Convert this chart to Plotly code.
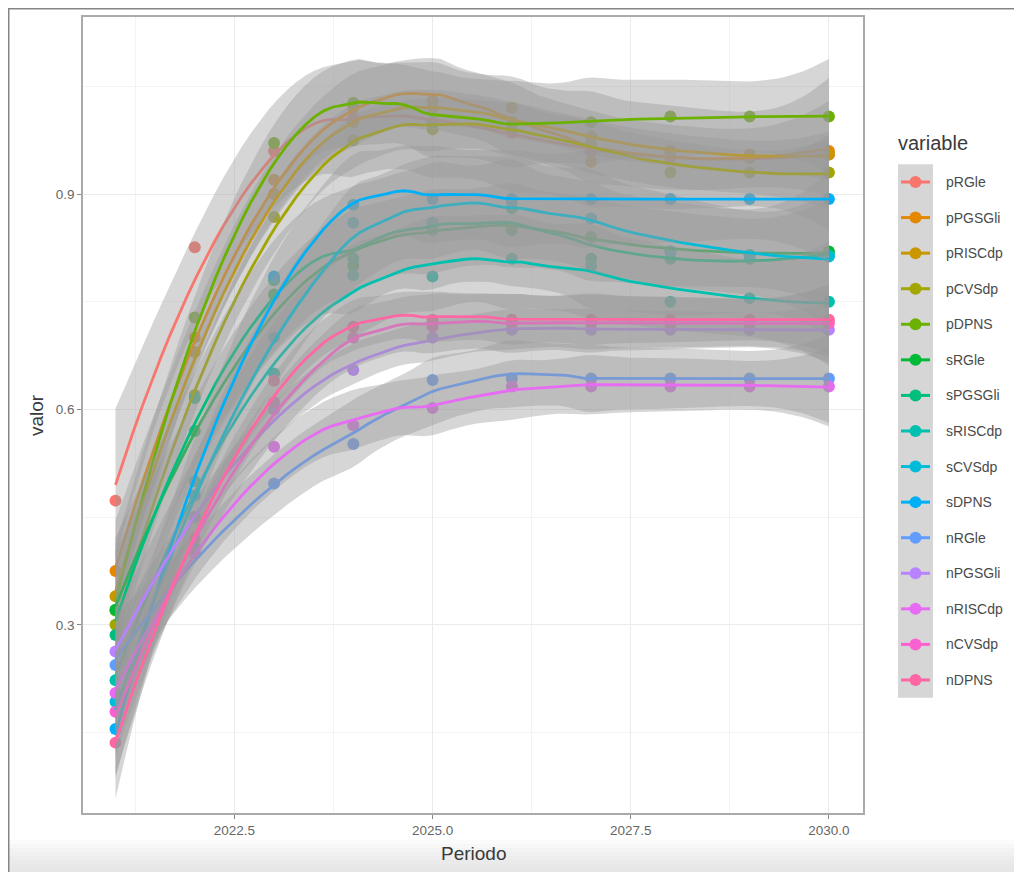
import numpy as np
import plotly.graph_objects as go

# ---------------- data ----------------
years = [2021, 2022, 2023, 2024, 2025, 2026, 2027, 2028, 2029, 2030]

series_names = ["pRGle", "pPGSGli", "pRISCdp", "pCVSdp", "pDPNS",
                "sRGle", "sPGSGli", "sRISCdp", "sCVSdp", "sDPNS",
                "nRGle", "nPGSGli", "nRISCdp", "nCVSdp", "nDPNS"]

pRGle   = [0.473, 0.826, 0.960, 1.005, 1.000, 0.985, 0.960, 0.950, 0.950, 0.955]
pPGSGli = [0.375, 0.700, 0.920, 1.020, 1.030, 1.020, 0.945, 0.960, 0.955, 0.960]
pRISCdp = [0.340, 0.680, 0.900, 1.000, 1.020, 1.000, 0.980, 0.960, 0.950, 0.955]
pCVSdp  = [0.300, 0.620, 0.868, 0.975, 0.990, 0.990, 0.970, 0.930, 0.930, 0.930]
pDPNS   = [0.320, 0.728, 0.971, 1.027, 1.000, 1.000, 1.000, 1.008, 1.008, 1.008]
sRGle   = [0.321, 0.570, 0.760, 0.800, 0.860, 0.850, 0.840, 0.820, 0.815, 0.820]
sPGSGli = [0.286, 0.616, 0.780, 0.810, 0.850, 0.880, 0.810, 0.810, 0.810, 0.815]
sRISCdp = [0.223, 0.500, 0.650, 0.787, 0.785, 0.810, 0.800, 0.750, 0.755, 0.750]
sCVSdp  = [0.193, 0.450, 0.700, 0.860, 0.860, 0.890, 0.866, 0.820, 0.815, 0.813]
sDPNS   = [0.155, 0.480, 0.785, 0.885, 0.893, 0.893, 0.893, 0.893, 0.893, 0.893]
nRGle   = [0.244, 0.407, 0.497, 0.552, 0.641, 0.643, 0.643, 0.643, 0.643, 0.643]
nPGSGli = [0.263, 0.450, 0.600, 0.655, 0.700, 0.711, 0.711, 0.711, 0.711, 0.711]
nRISCdp = [0.205, 0.400, 0.548, 0.578, 0.602, 0.632, 0.632, 0.632, 0.632, 0.632]
nCVSdp  = [0.179, 0.400, 0.610, 0.700, 0.715, 0.720, 0.720, 0.720, 0.720, 0.720]
nDPNS   = [0.136, 0.420, 0.640, 0.715, 0.725, 0.725, 0.725, 0.725, 0.725, 0.725]

series_values = [pRGle, pPGSGli, pRISCdp, pCVSdp, pDPNS,
                 sRGle, sPGSGli, sRISCdp, sCVSdp, sDPNS,
                 nRGle, nPGSGli, nRISCdp, nCVSdp, nDPNS]

palette = ["#F8766D", "#E58700", "#C99800", "#A3A500", "#6BB100",
           "#00BA38", "#00BF7D", "#00C0AF", "#00BCD8", "#00B0F6",
           "#619CFF", "#B983FF", "#E76BF3", "#FD61D1", "#FF67A4"]

x_ticks = [2022.5, 2025.0, 2027.5, 2030.0]
x_ticktext = ["2022.5", "2025.0", "2027.5", "2030.0"]
y_ticks = [0.3, 0.6, 0.9]
y_ticktext = ["0.3", "0.6", "0.9"]


# ---------------- loess (like ggplot geom_smooth) ----------------
def t975(df):
    z = 1.959964
    g1 = (z**3 + z) / 4
    g2 = (5*z**5 + 16*z**3 + 3*z) / 96
    g3 = (3*z**7 + 19*z**5 + 17*z**3 - 15*z) / 384
    g4 = (79*z**9 + 776*z**7 + 1482*z**5 - 1920*z**3 - 945*z) / 92160
    return z + g1/df + g2/df**2 + g3/df**3 + g4/df**4


# R's "approximate" loess statistics give a noticeably wider band for tiny n;
# emulate that with a widening factor on the standard error.
SE_WIDEN = 1.7


def loess_smooth(x, y, xs, span=0.75):
    x = np.asarray(x, float)
    y = np.asarray(y, float)
    n = len(x)
    q = int(np.floor(n * span))

    def row(x0):
        d = np.abs(x - x0)
        h = np.sort(d)[q - 1]
        u = np.clip(d / h, 0, 1)
        w = (1 - u**3)**3
        X = np.column_stack([np.ones(n), x - x0, (x - x0)**2])
        XtW = X.T * w
        return np.linalg.solve(XtW @ X, XtW)[0]

    L = np.array([row(v) for v in x])
    M = np.eye(n) - L
    R = M.T @ M
    d1 = np.trace(R)
    d2 = np.trace(R @ R)
    res = y - L @ y
    s = np.sqrt(np.sum(res**2) / d1)
    t = t975(d1**2 / d2)
    rows = np.array([row(v) for v in xs])
    fit = rows @ y
    se = SE_WIDEN * s * np.sqrt(np.sum(rows**2, axis=1))
    return fit, fit - t * se, fit + t * se


xs = np.linspace(min(years), max(years), 80)

fig = go.Figure()

# points first (beneath the smooth layers, as in ggplot)
for name, vals, col in zip(series_names, series_values, palette):
    fig.add_trace(go.Scatter(x=years, y=vals, mode="markers",
                             marker=dict(color=col, size=12),
                             name=name, showlegend=False, hoverinfo="skip"))

# smooth ribbons + lines
for name, vals, col in zip(series_names, series_values, palette):
    fit, lo, hi = loess_smooth(years, vals, xs)
    fig.add_trace(go.Scatter(x=np.concatenate([xs, xs[::-1]]),
                             y=np.concatenate([hi, lo[::-1]]),
                             mode="lines", fill="toself",
                             fillcolor="rgba(153,153,153,0.4)",
                             line=dict(width=0), showlegend=False,
                             hoverinfo="skip"))
    fig.add_trace(go.Scatter(x=xs, y=fit, mode="lines",
                             line=dict(color=col, width=2.8),
                             showlegend=False, name=name))

# ---------------- layout geometry (page has an 8px body margin) ----------------
W, H = 1014, 864
PL, PR, PT, PB = 75, 855, 9, 805          # plot panel edges in figure pixels

# ---------------- custom legend (pixel-coordinate subplot) ----------------
key_y0, key_step = 174.0, 35.57
key_x_left, key_x_right = 890, 925
key_centers = [key_y0 + key_step * i for i in range(len(series_names))]

for name, col, yc in zip(series_names, palette, key_centers):
    fig.add_trace(go.Scatter(x=[key_x_left + 3, key_x_right - 3], y=[yc, yc],
                             mode="lines", line=dict(color=col, width=3),
                             xaxis="x2", yaxis="y2", showlegend=False,
                             hoverinfo="skip", cliponaxis=False))
    fig.add_trace(go.Scatter(x=[(key_x_left + key_x_right) / 2], y=[yc],
                             mode="markers", marker=dict(color=col, size=12),
                             xaxis="x2", yaxis="y2", showlegend=False,
                             hoverinfo="skip", cliponaxis=False))

TXT = "#3a3a3a"
annotations = []
for name, yc in zip(series_names, key_centers):
    annotations.append(dict(x=936, y=yc, xref="x2", yref="y2", text=name,
                            showarrow=False, xanchor="left", yanchor="middle",
                            font=dict(size=14, color="#4a4a4a")))
annotations.append(dict(x=888, y=135, xref="x2", yref="y2", text="variable",
                        showarrow=False, xanchor="left", yanchor="middle",
                        font=dict(size=20, color=TXT)))
annotations.append(dict(x=466 / W, y=1 - 845 / H, xref="paper", yref="paper",
                        text="Periodo", showarrow=False,
                        xanchor="center", yanchor="middle",
                        font=dict(size=19, color=TXT)))
annotations.append(dict(x=28 / W, y=1 - 407 / H, xref="paper", yref="paper",
                        text="valor", showarrow=False, textangle=-90,
                        xanchor="center", yanchor="middle",
                        font=dict(size=19, color=TXT)))

shapes = [
    dict(type="rect", xref="x2", yref="y2", x0=key_x_left, x1=key_x_right,
         y0=key_centers[0] - key_step / 2, y1=key_centers[-1] + key_step / 2,
         fillcolor="#D6D6D6", line=dict(width=0), layer="below"),
]
# bottom light gradient of the screenshot
grad = ["#fbfbfb", "#f7f7f7", "#f3f3f3", "#f0f0f0", "#ededed", "#eaeaea", "#e8e8e8", "#e6e6e6"]
for i, c in enumerate(grad):
    y_top = 832 + i * 4
    shapes.append(dict(type="rect", xref="paper", yref="paper",
                       x0=0, x1=1, y0=max(0, 1 - (y_top + 4) / H), y1=1 - y_top / H,
                       fillcolor=c, line=dict(width=0), layer="below"))
# screenshot frame (top & left)
shapes.append(dict(type="line", xref="paper", yref="paper",
                   x0=0, x1=1, y0=1, y1=1,
                   line=dict(color="#858585", width=3)))
shapes.append(dict(type="line", xref="paper", yref="paper",
                   x0=0, x1=0, y0=0, y1=1,
                   line=dict(color="#858585", width=3)))

axis_common = dict(showgrid=True, gridcolor="#EBEBEB", gridwidth=1.1,
                   zeroline=False, showline=True, mirror=True,
                   linecolor="#aaaaaa", linewidth=1.5,
                   ticks="outside", ticklen=4, tickcolor="#888888",
                   tickfont=dict(family="Liberation Sans", size=13.5, color="#666666"))

fig.update_layout(
    width=W, height=H,
    margin=dict(l=0, r=0, t=0, b=0),
    paper_bgcolor="white", plot_bgcolor="white",
    font=dict(family="Liberation Sans"),
    showlegend=False,
    xaxis=dict(domain=[PL / W, PR / W], range=[2020.59, 2030.43],
               tickvals=x_ticks, ticktext=x_ticktext, anchor="y",
               minor=dict(tickvals=[2021.25, 2023.75, 2026.25, 2028.75],
                          showgrid=True, gridcolor="#F3F3F3", gridwidth=0.7,
                          ticks=""),
               **axis_common),
    yaxis=dict(domain=[(H - PB) / H, (H - PT) / H], range=[0.038, 1.1465],
               tickvals=y_ticks, ticktext=y_ticktext, anchor="x",
               minor=dict(tickvals=[0.15, 0.45, 0.75, 1.05],
                          showgrid=True, gridcolor="#F3F3F3", gridwidth=0.7,
                          ticks=""),
               **axis_common),
    xaxis2=dict(domain=[862 / W, 1], range=[862, W], visible=False,
                anchor="y2", fixedrange=True),
    yaxis2=dict(domain=[0, 1], range=[H, 0], visible=False,
                anchor="x2", fixedrange=True),
    annotations=annotations,
    shapes=shapes,
)

fig.write_html("out.html")
